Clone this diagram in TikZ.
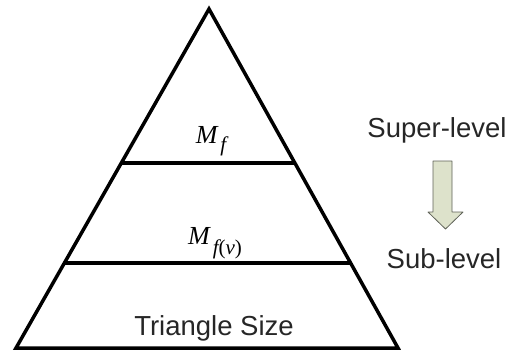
\documentclass[tikz,border=0pt]{standalone}
\usepackage{fontspec}
\setmainfont{Liberation Sans}
\newfontfamily\serif{Liberation Serif}
\usetikzlibrary{calc}
\definecolor{arrowfill}{HTML}{DDE2CB}
\definecolor{arrowdraw}{HTML}{5F6258}
\newcommand{\subidx}[2]{\raisebox{-#1}{\fontsize{21}{24}\selectfont #2}}

\begin{document}
\begin{tikzpicture}[
    x=1pt, y=-1pt,
    every node/.style={inner sep=0pt},
    edge/.style={line width=3.5pt, line join=miter},
    label/.style={anchor=base, font=\fontsize{27.5}{30}\selectfont, text=black!85},
    level/.style={anchor=base, font=\serif\fontsize{26}{30}\selectfont\itshape}
]
\useasboundingbox (0,0) rectangle (508,351);

% pyramid
\coordinate (apex) at (209,9);
\coordinate (bl) at (16,348);
\coordinate (br) at (398,348);
\draw[edge] (apex) -- (bl) -- (br) -- cycle;
\coordinate (l1) at ($(apex)!0.454!(bl)$);
\coordinate (r1) at ($(apex)!0.454!(br)$);
\coordinate (l2) at ($(apex)!0.749!(bl)$);
\coordinate (r2) at ($(apex)!0.749!(br)$);
\draw[edge] (l1) -- (r1);
\draw[edge] (l2) -- (r2);

\node[level] (mf) at (211,143) {M\kern3pt\subidx{8pt}{f}};
\node[level] (mfv) at (215,244) {M\kern3pt\subidx{10pt}{f\upshape(\itshape v\upshape)}};
\node[label] (size) at (214,335) {Triangle Size};

% levels
\node[label] (super) at (437,137) {Super-level};
\node[label] (sub) at (444,268) {Sub-level};
\draw[arrowdraw, fill=arrowfill, line width=0.8pt, line join=round]
    (433,161) -- (452,161) -- (452,212) -- (463,212) -- (445.5,229)
    -- (428,212) -- (433,212) -- cycle;
\end{tikzpicture}
\end{document}
